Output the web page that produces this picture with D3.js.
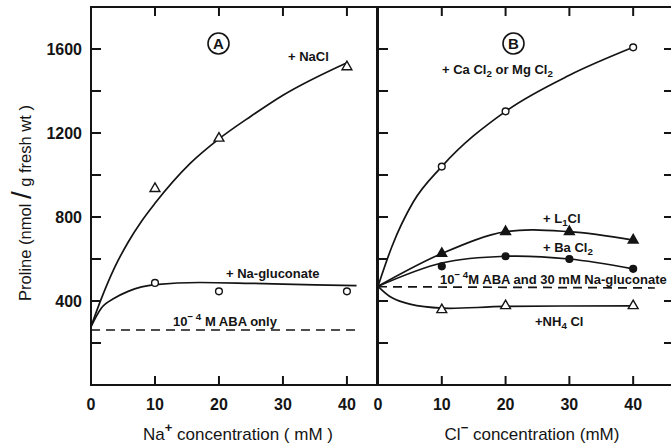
<!DOCTYPE html>
<html>
<head>
<meta charset="utf-8">
<script src="https://cdn.jsdelivr.net/npm/d3@7"></script>
<style>
  body { margin: 0; background: #fff; }
  svg { display: block; }
  text { font-family: "Liberation Sans", Arial, sans-serif; fill: #141414; }
</style>
</head>
<body>
<svg></svg>
<script>
// axis ticks
const xTicks = [10, 20, 30, 40];
const xTickLabels = [0, 10, 20, 30, 40];
const yTickLabels = [400, 800, 1200, 1600];
const yTicks = [200, 400, 600, 800, 1000, 1200, 1400, 1600];

// panel A : Na+ concentration
const naclX = [10, 20, 40];
const naclY = [935, 1175, 1515];
const naclFitX = [0, 1.6, 3.7, 5.8, 7.9, 10, 15.5, 20, 25, 30, 40];
const naclFitY = [278, 410, 560, 680, 780, 865, 1055, 1172, 1280, 1380, 1535];
const glucX = [10, 20, 40];
const glucY = [486, 446, 446];
const glucFitX = [0, 1.6, 3.7, 5.8, 7.9, 10, 17, 25, 35, 41.5];
const glucFitY = [278, 366, 414, 446, 467, 478, 488, 484, 477, 473];
const abaOnlyX = [0, 41.5];
const abaOnlyY = [262, 262];

// panel B : Cl- concentration
const caX = [10, 20, 40];
const caY = [1040, 1303, 1608];
const caFitX = [0, 2.2, 5.5, 10, 20, 30, 40];
const caFitY = [470, 661, 870, 1040, 1303, 1475, 1608];
const liX = [10, 20, 30, 40];
const liY = [626, 730, 730, 690];
const liFitX = [0, 10, 20, 30, 40];
const liFitY = [470, 626, 730, 730, 690];
const baX = [10, 20, 30, 40];
const baY = [565, 613, 600, 553];
const baFitX = [0, 10, 20, 30, 40];
const baFitY = [470, 581, 613, 600, 553];
const nhX = [10, 20, 40];
const nhY = [358, 377, 377];
const nhFitX = [0, 2.2, 5, 10, 20, 40];
const nhFitY = [470, 415, 385, 366, 374, 377];
const abaGlucX = [0, 43.4];
const abaGlucY = [468, 462];

const width = 671, height = 448;
const svg = d3.select("svg").attr("width", width).attr("height", height);

const y = d3.scaleLinear().domain([0, 1800]).range([385, 7]);
const xA = d3.scaleLinear().domain([0, 44.7]).range([91, 377]);
const xB = d3.scaleLinear().domain([0, 46.4]).range([378, 674]);

const zip = (xs, ys) => xs.map((d, i) => [d, ys[i]]);

function drawFrame(x, tickLeft, tickRight) {
  const [x0, x1] = x.range();
  const g = svg.append("g").attr("stroke", "#141414").attr("stroke-width", 2).attr("fill", "none");
  g.append("rect").attr("x", x0).attr("y", y(1800)).attr("width", x1 - x0).attr("height", y(0) - y(1800));
  // top and bottom ticks
  xTicks.forEach(t => {
    g.append("line").attr("x1", x(t)).attr("x2", x(t)).attr("y1", y(1800)).attr("y2", y(1800) + 9);
    g.append("line").attr("x1", x(t)).attr("x2", x(t)).attr("y1", y(0)).attr("y2", y(0) - 9);
  });
  yTicks.forEach(t => {
    if (tickLeft) g.append("line").attr("x1", x0).attr("x2", x0 + 10).attr("y1", y(t)).attr("y2", y(t));
    if (tickRight) g.append("line").attr("x1", x1).attr("x2", x1 - 10).attr("y1", y(t)).attr("y2", y(t));
  });
  svg.append("g").selectAll("text").data(xTickLabels).join("text")
    .attr("x", d => x(d)).attr("y", 410)
    .attr("text-anchor", "middle").attr("font-size", 16).attr("font-weight", "bold")
    .text(d => d);
}

drawFrame(xA, true, false);
drawFrame(xB, true, true);

svg.append("g").selectAll("text").data(yTickLabels).join("text")
  .attr("x", 82).attr("y", d => y(d) + 6)
  .attr("text-anchor", "end").attr("font-size", 16).attr("font-weight", "bold")
  .text(d => d);

function curve(x, xs, ys, kind) {
  const c = kind === "dash" ? d3.curveLinear
    : kind === "mono" ? d3.curveMonotoneX : d3.curveCatmullRom.alpha(0.5);
  const line = d3.line().x(d => x(d[0])).y(d => y(d[1])).curve(c);
  svg.append("path").attr("d", line(zip(xs, ys)))
    .attr("fill", "none").attr("stroke", "#141414")
    .attr("stroke-width", 1.7)
    .attr("stroke-dasharray", kind === "dash" ? "9,6" : null);
}

function marks(x, xs, ys, shape, filled) {
  const sym = d3.symbol().type(shape === "tri" ? d3.symbolTriangle : d3.symbolCircle)
    .size(shape === "tri" ? 42 : 36);
  svg.append("g").selectAll("path").data(zip(xs, ys)).join("path")
    .attr("d", sym)
    .attr("transform", d => `translate(${x(d[0])},${y(d[1])})`)
    .attr("fill", filled ? "#141414" : "#fff")
    .attr("stroke", "#141414").attr("stroke-width", 1.4);
}

// panel A
curve(xA, naclFitX, naclFitY, "mono");
curve(xA, glucFitX, glucFitY, "mono");
curve(xA, abaOnlyX, abaOnlyY, "dash");
marks(xA, naclX, naclY, "tri", false);
marks(xA, glucX, glucY, "circle", false);

// panel B
curve(xB, caFitX, caFitY, "mono");
curve(xB, liFitX, liFitY);
curve(xB, baFitX, baFitY);
curve(xB, nhFitX, nhFitY);
curve(xB, abaGlucX, abaGlucY, "dash");
marks(xB, caX, caY, "circle", false);
marks(xB, liX, liY, "tri", true);
marks(xB, baX, baY, "circle", true);
marks(xB, nhX, nhY, "tri", false);

// labels: parts are [text, "sub" | "sup" | "base" | "base2"]
function label(px, py, parts, size) {
  const t = svg.append("text").attr("x", px).attr("y", py)
    .attr("font-size", size).attr("font-weight", "bold");
  parts.forEach(([s, kind]) => {
    const sp = t.append("tspan").text(s);
    if (kind === "sub") sp.attr("font-size", size * 0.75).attr("dy", 3);
    if (kind === "sup") sp.attr("font-size", size * 0.75).attr("dy", -6);
    if (kind === "base") sp.attr("dy", -3);
    if (kind === "base2") sp.attr("dy", 6);
  });
  return t;
}

label(288, 61, [["+ NaCl"]], 13);
label(226, 278, [["+ Na-gluconate"]], 13);
label(173, 326, [["10"], ["\u2212 4", "sup"], [" M ABA only", "base2"]], 13);

label(442, 74, [["+ Ca Cl"], ["2", "sub"], [" or  Mg Cl", "base"], ["2", "sub"]], 13);
label(543, 223, [["+ L"], ["1", "sub"], ["Cl", "base"]], 13);
label(543, 252, [["+ Ba Cl"], ["2", "sub"]], 13);
label(440, 284, [["10"], ["\u2212 4", "sup"], ["M ABA and 30 mM Na-gluconate", "base2"]], 13);
label(535, 326, [["+NH"], ["4", "sub"], [" Cl", "base"]], 13);

// circled panel letters
[[218.5, "A"], [513.5, "B"]].forEach(([cx, s]) => {
  svg.append("circle").attr("cx", cx).attr("cy", 43.5).attr("r", 10.5)
    .attr("fill", "none").attr("stroke", "#141414").attr("stroke-width", 1.6);
  svg.append("text").attr("x", cx).attr("y", 49).attr("text-anchor", "middle")
    .attr("font-size", 15).attr("font-weight", "bold").text(s);
});

// axis titles
const tA = svg.append("text").attr("x", 238).attr("y", 440).attr("text-anchor", "middle").attr("font-size", 17);
tA.append("tspan").text("Na");
tA.append("tspan").text("+").attr("font-size", 13).attr("font-weight", "bold").attr("dy", -8);
tA.append("tspan").text(" concentration ( mM )").attr("dy", 8);

const tB = svg.append("text").attr("x", 532).attr("y", 440).attr("text-anchor", "middle").attr("font-size", 17);
tB.append("tspan").text("Cl");
tB.append("tspan").text("\u2212").attr("font-size", 13).attr("font-weight", "bold").attr("dy", -8);
tB.append("tspan").text("  concentration  (mM)").attr("dy", 8);

const tY = svg.append("text").attr("transform", "translate(31,203) rotate(-90)")
  .attr("text-anchor", "middle").attr("font-size", 16.5);
tY.append("tspan").text("Proline (nmol ");
tY.append("tspan").text("/").attr("font-size", 28).attr("font-weight", "200");
tY.append("tspan").text(" g  fresh  wt )");
</script>
</body>
</html>
